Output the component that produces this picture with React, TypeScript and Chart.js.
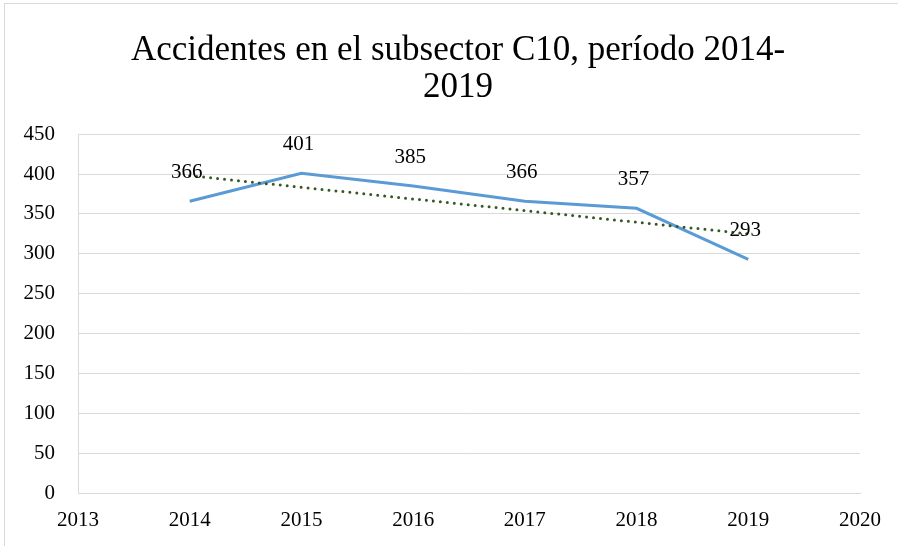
import React, { useEffect, useRef } from "react";
import { Chart, registerables } from "chart.js";

Chart.register(...registerables);

const years = [2014, 2015, 2016, 2017, 2018, 2019];
const accidents = [366, 401, 385, 366, 357, 293];
const trendYears = [2014, 2019];
const trendValues = [398, 325];
const titleLines = ["Accidentes en el subsector C10, período 2014-", "2019"];
const xMin = 2013;
const xMax = 2020;
const yMax = 450;
const yStep = 50;

const FONT = "'Liberation Serif', 'Times New Roman', serif";

const labelPlugin = {
  id: "pointLabels",
  afterDatasetsDraw(chart: any) {
    const meta = chart.getDatasetMeta(0);
    const ctx = chart.ctx;
    ctx.save();
    ctx.font = `21px ${FONT}`;
    ctx.fillStyle = "#000000";
    ctx.textAlign = "center";
    ctx.textBaseline = "middle";
    meta.data.forEach((pt: any, i: number) => {
      ctx.fillText(String(accidents[i]), pt.x - 3, pt.y - 29);
    });
    ctx.restore();
  },
};

const borderPlugin = {
  id: "outerBorder",
  beforeDraw(chart: any) {
    const ctx = chart.ctx;
    ctx.save();
    ctx.fillStyle = "#ffffff";
    ctx.fillRect(0, 0, chart.width, chart.height);
    ctx.strokeStyle = "#d9d9d9";
    ctx.lineWidth = 1;
    ctx.strokeRect(4.5, 3.5, chart.width + 10, chart.height + 10);
    ctx.restore();
  },
};

export default function App() {
  const ref = useRef<HTMLCanvasElement>(null);

  useEffect(() => {
    document.body.style.margin = "0";
    const chart = new Chart(ref.current as HTMLCanvasElement, {
      type: "line",
      data: {
        datasets: [
          {
            label: "Accidentes",
            data: years.map((x, i) => ({ x, y: accidents[i] })),
            borderColor: "#5b9bd5",
            borderWidth: 3,
            pointRadius: 0,
            tension: 0,
            order: 1,
          },
          {
            label: "Tendencia",
            data: trendYears.map((x, i) => ({ x, y: trendValues[i] })),
            borderColor: "#385723",
            borderWidth: 3,
            borderDash: [0, 7],
            borderCapStyle: "round",
            pointRadius: 0,
            order: 0,
          },
        ],
      },
      options: {
        animation: false,
        responsive: false,
        layout: { padding: { left: 18, right: 0, top: 0, bottom: 0 } },
        plugins: {
          legend: { display: false },
          tooltip: { enabled: false },
          title: {
            display: true,
            text: titleLines,
            color: "#000000",
            font: { family: FONT, size: 35, weight: "normal", lineHeight: 1.06 },
            padding: { top: 32, bottom: 28 },
          },
        },
        scales: {
          x: {
            type: "linear",
            min: xMin,
            max: xMax,
            ticks: {
              stepSize: 1,
              color: "#000000",
              font: { family: FONT, size: 21 },
              padding: 15,
              callback: (v: any) => String(v),
              maxRotation: 0,
            },
            grid: { display: false, drawTicks: false },
            border: { display: true, color: "#d9d9d9", width: 1 },
            afterFit: (s: any) => {
              s.height = 53;
            },
          },
          y: {
            min: 0,
            max: yMax,
            ticks: {
              stepSize: yStep,
              color: "#000000",
              font: { family: FONT, size: 21 },
              padding: 23,
            },
            grid: { color: "#d9d9d9", lineWidth: 1, drawTicks: false },
            border: { display: true, color: "#d9d9d9", width: 1 },
            afterFit: (s: any) => {
              s.width = 60;
            },
          },
          spacer: {
            type: "linear",
            position: "right",
            display: true,
            ticks: { display: false },
            grid: { display: false, drawTicks: false },
            border: { display: false },
            afterFit: (s: any) => {
              s.width = 38;
            },
          },
        },
      },
      plugins: [borderPlugin, labelPlugin],
    } as any);
    return () => chart.destroy();
  }, []);

  return (
    <div style={{ width: 898, height: 546 }}>
      <canvas ref={ref} width={898} height={546} style={{ display: "block" }} />
    </div>
  );
}
